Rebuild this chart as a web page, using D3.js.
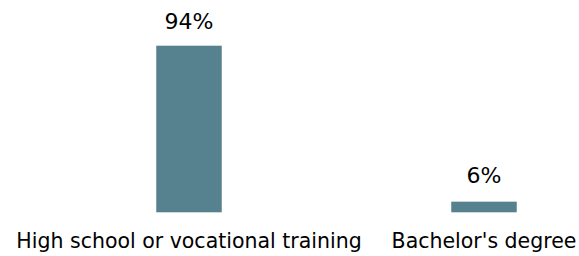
<!DOCTYPE html>
<html>
<head>
  <meta charset='utf-8'>
  <style>
    body { margin: 0; background: #fff; }
    text { font-family: "DejaVu Sans", sans-serif; fill: #000; }
  </style>
</head>
<body>
  <div id="chart"></div>
  <script src="https://d3js.org/d3.v7.min.js"></script>
  <script>
    var categories = ["High school or vocational training", "Bachelor's degree"];
    var values = [94, 6];
    var valueLabels = ["94%", "6%"];

    var width = 579, height = 256;
    var baseY = 212.3, topY = 45.7;

    var svg = d3.select("#chart").append("svg")
        .attr("width", width)
        .attr("height", height);

    // band centers come out at ~189 and ~484
    var x = d3.scaleBand()
        .domain(categories)
        .range([41.5, 631.5])
        .paddingInner(0.778)
        .paddingOuter(0.389);

    var y = d3.scaleLinear()
        .domain([0, 94])
        .range([baseY, topY]);

    svg.selectAll(".bar")
        .data(values)
        .enter().append("rect")
        .attr("class", "bar")
        .attr("x", function(d, i) { return x(categories[i]); })
        .attr("width", x.bandwidth())
        .attr("y", function(d) { return y(d); })
        .attr("height", function(d) { return baseY - y(d); })
        .attr("fill", "#56818f");

    svg.selectAll(".val")
        .data(values)
        .enter().append("text")
        .attr("class", "val")
        .attr("x", function(d, i) { return x(categories[i]) + x.bandwidth() / 2; })
        .attr("y", function(d, i) { return y(d) - (i ? 19 : 17); })
        .attr("text-anchor", "middle")
        .style("font-size", "22px")
        .text(function(d, i) { return valueLabels[i]; });

    svg.selectAll(".cat")
        .data(categories)
        .enter().append("text")
        .attr("class", "cat")
        .attr("x", function(d) { return x(d) + x.bandwidth() / 2; })
        .attr("y", 248)
        .attr("text-anchor", "middle")
        .style("font-size", "20.5px")
        .text(function(d) { return d; });
  </script>
</body>
</html>
